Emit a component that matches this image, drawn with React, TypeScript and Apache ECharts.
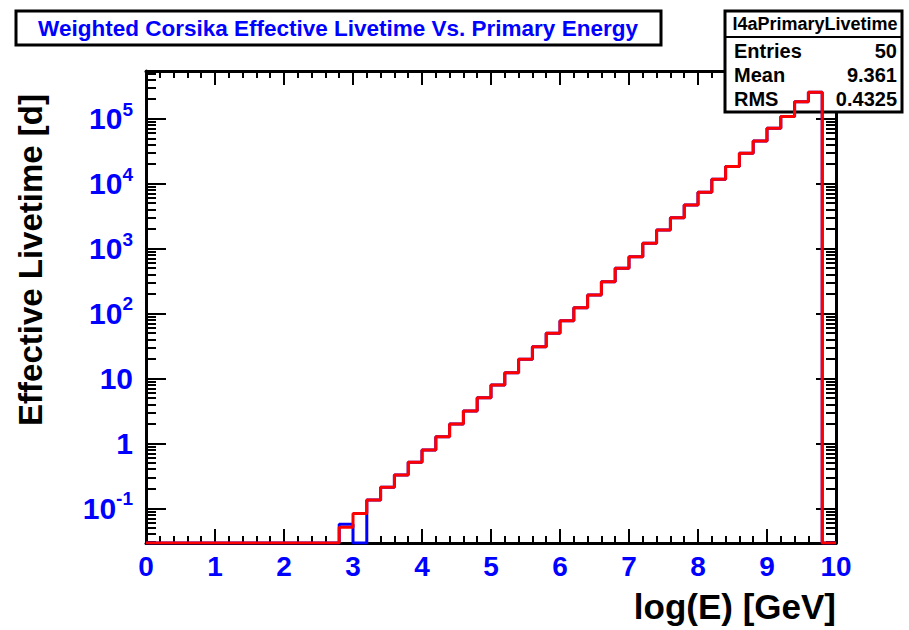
import React, { useEffect, useRef } from "react";
import * as echarts from "echarts";

// ---- data ----
const binEdges: number[] = [
  0.0, 0.2, 0.4, 0.6, 0.8, 1.0, 1.2, 1.4, 1.6, 1.8,
  2.0, 2.2, 2.4, 2.6, 2.8, 3.0, 3.2, 3.4, 3.6, 3.8,
  4.0, 4.2, 4.4, 4.6, 4.8, 5.0, 5.2, 5.4, 5.6, 5.8,
  6.0, 6.2, 6.4, 6.6, 6.8, 7.0, 7.2, 7.4, 7.6, 7.8,
  8.0, 8.2, 8.4, 8.6, 8.8, 9.0, 9.2, 9.4, 9.6, 9.8,
];
const X_MAX = 10;

const redValues: number[] = [
  0, 0, 0, 0, 0, 0, 0, 0, 0, 0,
  0, 0, 0, 0, 0.051, 0.083, 0.134, 0.21, 0.325, 0.51,
  0.79, 1.26, 1.98, 3.15, 5.04, 7.9, 12.2, 19.7, 30.8, 49.5,
  77.4, 123, 193, 309, 498, 750, 1207, 1935, 2995, 4700,
  7370, 11700, 18300, 29400, 45500, 71400, 108000, 183000, 255000, 0,
];
const blueValues: number[] = [
  0, 0, 0, 0, 0, 0, 0, 0, 0, 0,
  0, 0, 0, 0, 0.057, 0, 0.134, 0.21, 0.325, 0.51,
  0.79, 1.26, 1.98, 3.15, 5.04, 7.9, 12.2, 19.7, 30.8, 49.5,
  77.4, 123, 193, 309, 498, 750, 1207, 1935, 2995, 4700,
  7370, 11700, 18300, 29400, 45500, 71400, 108000, 183000, 255000, 0,
];

const titleText = "Weighted Corsika Effective Livetime Vs. Primary Energy";
const xTitle = "log(E) [GeV]";
const yTitle = "Effective Livetime [d]";
const statsName = "I4aPrimaryLivetime";
const statsLabels: string[] = ["Entries", "Mean", "RMS"];
const statsValues: string[] = ["50", "9.361", "0.4325"];

const Y_MIN = 0.0292;
const Y_MAX = 5.43e5;

const FONT = "'Liberation Sans', Arial, Helvetica, sans-serif";
const BLUE = "#0000ff";
const RED = "#ff0000";

function histData(values: number[]): number[][] {
  const pts = values.map((v, i) => [binEdges[i], v > 0 ? v : Y_MIN]);
  const last = values[values.length - 1];
  pts.push([X_MAX, last > 0 ? last : Y_MIN]);
  return pts;
}

export default function App() {
  const ref = useRef<HTMLDivElement>(null);

  useEffect(() => {
    if (!ref.current) return;
    const chart = echarts.init(ref.current, null, { renderer: "svg" });

    const xAxisCommon = {
      type: "value" as const,
      min: 0,
      max: X_MAX,
      interval: 1,
      splitLine: { show: false },
      axisLine: { show: true, onZero: false, lineStyle: { color: "#000", width: 3 } },
      axisTick: { show: true, inside: true, length: 14, lineStyle: { color: "#000", width: 2 } },
      minorTick: { show: true, splitNumber: 5, length: 7, lineStyle: { color: "#000", width: 2 } },
    };
    const yAxisCommon = {
      type: "log" as const,
      logBase: 10,
      min: Y_MIN,
      max: Y_MAX,
      splitLine: { show: false },
      axisLine: { show: true, onZero: false, lineStyle: { color: "#000", width: 3 } },
      axisTick: { show: true, inside: true, length: 20, lineStyle: { color: "#000", width: 2 } },
      minorTick: { show: true, splitNumber: 9, length: 10, lineStyle: { color: "#000", width: 2 } },
    };

    const option: any = {
      animation: false,
      backgroundColor: "#ffffff",
      grid: { left: 146, right: 73, top: 71, bottom: 87, containLabel: false },
      xAxis: [
        {
          ...xAxisCommon,
          position: "bottom",
          axisLabel: {
            show: true,
            margin: 9,
            color: BLUE,
            fontSize: 28,
            fontWeight: "bold",
            fontFamily: FONT,
          },
        },
        {
          ...xAxisCommon,
          position: "top",
          axisLabel: { show: false },
        },
      ],
      yAxis: [
        {
          ...yAxisCommon,
          position: "left",
          axisLabel: {
            show: true,
            margin: 13,
            showMinLabel: false,
            showMaxLabel: false,
            formatter: (v: number) => {
              const e = Math.round(Math.log10(v));
              if (e === 0) return "{b|1}";
              if (e === 1) return "{b|10}";
              return `{b|10}{s|${e}}`;
            },
            rich: {
              b: {
                fontSize: 30,
                fontWeight: "bold",
                color: BLUE,
                fontFamily: FONT,
                lineHeight: 38,
              },
              s: {
                fontSize: 19,
                fontWeight: "bold",
                color: BLUE,
                fontFamily: FONT,
                verticalAlign: "top",
              },
            },
          },
        },
        {
          ...yAxisCommon,
          position: "right",
          axisLabel: { show: false },
        },
      ],
      graphic: [
        {
          type: "rect",
          z: 1,
          shape: { x: 16, y: 11, width: 645, height: 34 },
          style: { fill: "#fff", stroke: "#000", lineWidth: 3 },
        },
        {
          type: "text",
          z: 1,
          x: 338,
          y: 28,
          style: {
            text: titleText,
            fill: BLUE,
            font: `bold 22.5px ${FONT}`,
            align: "center",
            verticalAlign: "middle",
          },
        },
        {
          type: "rect",
          z: 1,
          shape: { x: 725, y: 11, width: 177, height: 101 },
          style: { fill: "#fff", stroke: "#000", lineWidth: 3 },
        },
        {
          type: "line",
          z: 1,
          shape: { x1: 725, y1: 37, x2: 902, y2: 37 },
          style: { stroke: "#000", lineWidth: 2 },
        },
        {
          type: "text",
          z: 1,
          x: 815,
          y: 24,
          style: {
            text: statsName,
            fill: "#000",
            font: `bold 18px ${FONT}`,
            align: "center",
            verticalAlign: "middle",
          },
        },
        ...statsLabels.map((s, i) => ({
          type: "text",
          z: 1,
          x: 734,
          y: 51 + i * 24,
          style: {
            text: s,
            fill: "#000",
            font: `bold 20px ${FONT}`,
            align: "left",
            verticalAlign: "middle",
          },
        })),
        ...statsValues.map((s, i) => ({
          type: "text",
          z: 1,
          x: 897,
          y: 51 + i * 24,
          style: {
            text: s,
            fill: "#000",
            font: `bold 20px ${FONT}`,
            align: "right",
            verticalAlign: "middle",
          },
        })),
        {
          type: "text",
          z: 1,
          x: 836,
          y: 606,
          style: {
            text: xTitle,
            fill: "#000",
            font: `bold 35px ${FONT}`,
            align: "right",
            verticalAlign: "middle",
          },
        },
        {
          type: "text",
          z: 1,
          x: 30,
          y: 260,
          rotation: Math.PI / 2,
          style: {
            text: yTitle,
            fill: "#000",
            font: `bold 33px ${FONT}`,
            align: "center",
            verticalAlign: "middle",
          },
        },
      ],
      series: [
        {
          name: "blue",
          type: "line",
          step: "end",
          xAxisIndex: 0,
          yAxisIndex: 0,
          z: 3,
          symbol: "none",
          lineStyle: { color: BLUE, width: 3 },
          data: histData(blueValues),
        },
        {
          name: "red",
          type: "line",
          step: "end",
          xAxisIndex: 0,
          yAxisIndex: 0,
          z: 4,
          symbol: "none",
          lineStyle: { color: RED, width: 3 },
          data: histData(redValues),
        },
      ],
    };

    chart.setOption(option);
    return () => chart.dispose();
  }, []);

  return (
    <div
      ref={ref}
      style={{ position: "absolute", left: 0, top: 0, width: 909, height: 630 }}
    />
  );
}
